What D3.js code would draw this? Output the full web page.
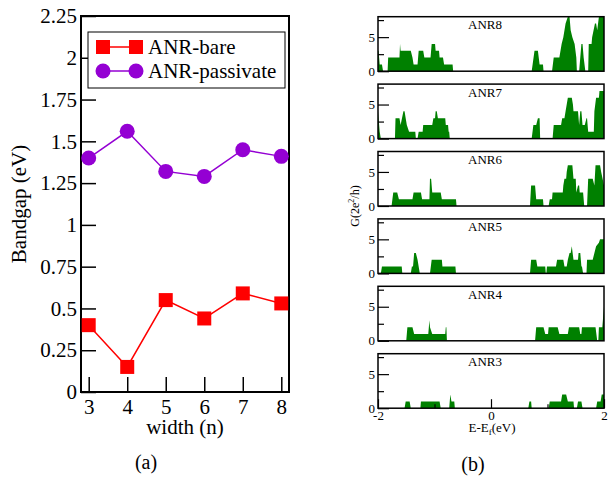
<!DOCTYPE html>
<html>
<head>
<meta charset="utf-8">
<script src="https://cdn.jsdelivr.net/npm/d3@7"></script>
<style>
    body { margin: 0; background: #fff; }
    svg { display: block; }
</style>
</head>
<body>
<svg id="chart" width="608" height="477"></svg>
<script>
// (a) band gap vs ribbon width
const widths = [3, 4, 5, 6, 7, 8];
const bareGap = [0.40, 0.15, 0.55, 0.44, 0.59, 0.53];
const passivateGap = [1.40, 1.56, 1.32, 1.29, 1.45, 1.41];
const gapTicks = [0, 0.25, 0.5, 0.75, 1, 1.25, 1.5, 1.75, 2, 2.25];
const seriesNames = ["ANR-bare", "ANR-passivate"];

// (b) conductance G(E) for each ribbon, [E - Ef, G] pairs
const ribbonNames = ["ANR8", "ANR7", "ANR6", "ANR5", "ANR4", "ANR3"];
const anr8 = [[-2.0,3],[-1.99,3],[-1.97,1],[-1.93,1],[-1.91,0],[-1.83,0],[-1.82,2],[-1.62,2],[-1.61,4],[-1.60,3],[-1.42,3],[-1.39,2],[-1.37,1],[-1.30,1],[-1.28,3],[-1.20,3],[-1.18,2],[-1.07,2],[-1.05,4],[-0.99,4],[-0.98,3],[-0.92,3],[-0.91,2],[-0.85,2],[-0.83,1],[-0.68,1],[-0.67,0],
    [0.72,0],[0.77,3],[0.83,3],[0.86,1],[0.92,1],[0.93,0],[1.08,0],[1.11,2],[1.21,2],[1.25,4],[1.28,5],[1.32,7],[1.36,8],[1.39,8],[1.41,6],[1.44,5],[1.48,4],[1.51,2],[1.52,0],[1.56,0],[1.60,4],[1.62,4],[1.64,2],[1.67,0],[1.72,0],[1.73,4],[1.78,4],[1.79,5],[1.84,7],[1.86,7],[1.88,6],[1.91,8],[2.0,8]];
const anr7 = [[-2.0,4],[-1.97,1],[-1.95,0],[-1.70,0],[-1.69,3],[-1.62,3],[-1.60,2],[-1.55,4],[-1.53,4],[-1.51,3],[-1.49,2],[-1.45,1],[-1.34,1],[-1.33,0],[-1.30,0],[-1.28,1],[-1.21,1],[-1.20,2],[-1.04,2],[-1.02,3],[-0.99,3],[-0.98,4],[-0.96,4],[-0.94,3],[-0.81,3],[-0.80,2],[-0.76,2],[-0.75,1],[-0.74,1],[-0.73,0],
    [0.72,0],[0.75,2],[0.80,2],[0.83,3],[0.86,3],[0.87,0],[1.09,0],[1.11,2],[1.24,2],[1.26,3],[1.30,3],[1.32,4],[1.34,5],[1.36,6],[1.43,6],[1.45,5],[1.46,4],[1.54,4],[1.56,2],[1.58,4],[1.60,4],[1.62,2],[1.66,2],[1.69,3],[1.70,3],[1.72,1],[1.82,1],[1.83,4],[1.86,6],[1.91,6],[1.92,7],[2.0,7]];
const anr6 = [[-2.0,0],[-1.76,0],[-1.73,2],[-1.66,2],[-1.63,1],[-1.39,1],[-1.37,2],[-1.24,2],[-1.22,1],[-1.09,1],[-1.08,4],[-1.06,4],[-1.04,2],[-0.89,2],[-0.87,1],[-0.62,1],[-0.61,0],
    [0.69,0],[0.71,3],[0.78,3],[0.80,1],[0.92,1],[0.93,0],[1.02,0],[1.04,1],[1.08,1],[1.09,2],[1.27,2],[1.28,3],[1.30,4],[1.33,4],[1.34,5],[1.36,6],[1.44,6],[1.46,4],[1.50,4],[1.51,2],[1.54,3],[1.56,3],[1.57,2],[1.63,2],[1.65,0],[1.70,0],[1.72,4],[1.80,4],[1.83,3],[1.85,6],[1.93,6],[1.95,5],[2.0,3]];
const anr5 = [[-2.0,0],[-1.95,0],[-1.93,1],[-1.58,1],[-1.57,0],[-1.42,0],[-1.40,1],[-1.38,1],[-1.36,3],[-1.33,3],[-1.30,2],[-1.26,0],[-1.08,0],[-1.05,2],[-0.87,2],[-0.86,1],[-0.63,1],[-0.62,0],
    [0.69,0],[0.71,2],[0.80,2],[0.82,1],[0.96,1],[0.97,0],[0.98,0],[0.99,1],[1.15,1],[1.17,2],[1.28,2],[1.30,1],[1.34,1],[1.36,2],[1.39,3],[1.41,3],[1.43,4],[1.46,2],[1.54,2],[1.55,3],[1.58,3],[1.60,1],[1.61,1],[1.63,0],[1.69,0],[1.70,2],[1.80,2],[1.83,3],[1.86,4],[1.91,4.5],[1.93,5],[2.0,5]];
const anr4 = [[-2.0,0],[-1.50,0],[-1.48,2],[-1.39,2],[-1.36,1],[-1.11,1],[-1.09,3],[-1.08,2],[-1.04,1],[-0.81,1],[-0.80,2],[-0.79,2],[-0.78,0],
    [0.78,0],[0.80,2],[0.93,2],[0.96,1],[1.01,1],[1.02,2],[1.18,2],[1.21,1],[1.36,1],[1.38,2],[1.56,2],[1.58,1],[1.60,1],[1.61,2],[1.85,2],[1.88,0],[1.90,0],[1.91,2],[1.97,2],[2.0,5]];
const anr3 = [[-2.0,0],[-1.53,0],[-1.51,1],[-1.44,1],[-1.42,0],[-1.25,0],[-1.24,1],[-0.91,1],[-0.89,0],[-0.74,0],[-0.72,2],[-0.70,1],[-0.65,1],[-0.64,0],
    [0.66,0],[0.68,1],[0.71,1],[0.72,0],[1.02,0],[1.04,1],[1.24,1],[1.26,2],[1.33,2],[1.36,1],[1.46,1],[1.47,0],[1.52,0],[1.54,1],[1.60,1],[1.62,0],[1.86,0],[1.88,1],[1.94,1],[1.96,2],[2.0,2]];
const ribbonData = [anr8, anr7, anr6, anr5, anr4, anr3];
const gTicks = [0, 5];
const gMinorTicks = [2.5, 7.5];
const eTicks = [-2, 0, 2];
const eMinorTicks = [-1, 1];

const serif = "'Liberation Serif', 'Times New Roman', serif";
const plain = d => String(d);
const svg = d3.select('#chart');

// ---------- left panel ----------
const lx = d3.scaleLinear().domain([2.8, 8.2]).range([81, 289]);
const ly = d3.scaleLinear().domain([0, 2.25]).range([392, 16]);

const leftY = svg.append("g")
    .attr("transform", `translate(${lx.range()[0]},0)`)
    .call(d3.axisLeft(ly).tickValues(gapTicks).tickSize(-15).tickSizeOuter(0).tickPadding(4).tickFormat(plain));
const leftX = svg.append("g")
    .attr("transform", `translate(0,${ly.range()[0]})`)
    .call(d3.axisBottom(lx).tickValues(widths).tickSize(-15).tickSizeOuter(0).tickPadding(7).tickFormat(plain));

for (const g of [leftY, leftX]) {
    g.select(".domain").remove();
    g.selectAll("line").attr("stroke", "#000").attr("stroke-width", 1.5);
    g.selectAll("text").attr("fill", "#000").attr("font-family", serif).attr("font-size", 21);
}

svg.append("rect")
    .attr("x", lx.range()[0]).attr("y", ly.range()[1])
    .attr("width", lx.range()[1] - lx.range()[0])
    .attr("height", ly.range()[0] - ly.range()[1])
    .attr("fill", "none").attr("stroke", "#000").attr("stroke-width", 2);

const gapLine = d3.line().x((d, i) => lx(widths[i])).y(d => ly(d));

svg.append("path").datum(passivateGap)
    .attr("d", gapLine).attr("fill", "none")
    .attr("stroke", "#9400d3").attr("stroke-width", 1.5);
svg.append("g").selectAll("circle").data(passivateGap).join("circle")
    .attr("cx", (d, i) => lx(widths[i])).attr("cy", d => ly(d))
    .attr("r", 7.5).attr("fill", "#9400d3");

svg.append("path").datum(bareGap)
    .attr("d", gapLine).attr("fill", "none")
    .attr("stroke", "#ff0000").attr("stroke-width", 1.5);
svg.append("g").selectAll("rect").data(bareGap).join("rect")
    .attr("x", (d, i) => lx(widths[i]) - 7).attr("y", d => ly(d) - 7)
    .attr("width", 14).attr("height", 14).attr("fill", "#ff0000");

// legend
const legend = svg.append("g");
legend.append("rect")
    .attr("x", 88).attr("y", 32).attr("width", 197).attr("height", 56)
    .attr("fill", "#fff").attr("stroke", "#000").attr("stroke-width", 1);
seriesNames.forEach((name, i) => {
    const yy = 47 + i * 24;
    const color = i === 0 ? "#ff0000" : "#9400d3";
    legend.append("line").attr("x1", 103).attr("x2", 136).attr("y1", yy).attr("y2", yy)
        .attr("stroke", color).attr("stroke-width", 1.5);
    for (const cx of [103, 136]) {
        if (i === 0) {
            legend.append("rect").attr("x", cx - 7).attr("y", yy - 7).attr("width", 14).attr("height", 14).attr("fill", color);
        } else {
            legend.append("circle").attr("cx", cx).attr("cy", yy).attr("r", 7.5).attr("fill", color);
        }
    }
    legend.append("text").attr("x", 148).attr("y", yy + 7)
        .attr("font-family", serif).attr("font-size", 21).text(name);
});

svg.append("text")
    .attr("transform", "translate(26,204) rotate(-90)")
    .attr("text-anchor", "middle")
    .attr("font-family", serif).attr("font-size", 21)
    .text("Bandgap (eV)");
svg.append("text")
    .attr("x", 185).attr("y", 434).attr("text-anchor", "middle")
    .attr("font-family", serif).attr("font-size", 21)
    .text("width (n)");
svg.append("text")
    .attr("x", 146).attr("y", 469).attr("text-anchor", "middle")
    .attr("font-family", serif).attr("font-size", 20)
    .text("(a)");

// ---------- right panels ----------
const rx = d3.scaleLinear().domain([-2, 2]).range([378, 604]);
const panelTop = 16.7, panelStep = 67.4, panelHeight = 54.5;

ribbonData.forEach((series, i) => {
    const top = panelTop + i * panelStep;
    const ry = d3.scaleLinear().domain([0, 8]).range([top + panelHeight, top]);
    const panel = svg.append("g").attr("class", "ribbon");

    panel.append("path").datum(series)
        .attr("d", d3.area().x(d => rx(d[0])).y0(ry(0)).y1(d => ry(d[1])))
        .attr("fill", "#008000");

    const yAxis = panel.append("g")
        .attr("transform", `translate(${rx.range()[0]},0)`)
        .call(d3.axisLeft(ry).tickValues(gTicks).tickSize(-11).tickSizeOuter(0).tickPadding(3).tickFormat(plain));
    const yMinor = panel.append("g")
        .attr("transform", `translate(${rx.range()[0]},0)`)
        .call(d3.axisLeft(ry).tickValues(gMinorTicks).tickSize(-6).tickSizeOuter(0).tickFormat(""));
    const axes = [yAxis, yMinor];

    if (i === ribbonData.length - 1) {
        const xAxis = panel.append("g")
            .attr("transform", `translate(0,${ry(0)})`)
            .call(d3.axisBottom(rx).tickValues(eTicks).tickSize(-9).tickSizeOuter(0).tickPadding(3).tickFormat(plain));
        const xMinor = panel.append("g")
            .attr("transform", `translate(0,${ry(0)})`)
            .call(d3.axisBottom(rx).tickValues(eMinorTicks).tickSize(-4).tickSizeOuter(0).tickFormat(""));
        axes.push(xAxis, xMinor);
    }

    for (const g of axes) {
        g.select(".domain").remove();
        g.selectAll("line").attr("stroke", "#000").attr("stroke-width", 1.2);
        g.selectAll("text").attr("fill", "#000").attr("font-family", serif).attr("font-size", 13);
    }

    panel.append("rect")
        .attr("x", rx.range()[0]).attr("y", top)
        .attr("width", rx.range()[1] - rx.range()[0]).attr("height", panelHeight)
        .attr("fill", "none").attr("stroke", "#000").attr("stroke-width", 1.5);

    panel.append("text")
        .attr("x", 485).attr("y", top + 12.5).attr("text-anchor", "middle")
        .attr("font-family", serif).attr("font-size", 13)
        .text(ribbonNames[i]);
});

const gLabel = svg.append("text")
    .attr("transform", "translate(359,206) rotate(-90)")
    .attr("text-anchor", "middle")
    .attr("font-family", serif).attr("font-size", 12);
gLabel.append("tspan").text("G(2e");
gLabel.append("tspan").attr("font-size", 8).attr("dy", -5).text("2");
gLabel.append("tspan").attr("dy", 5).text("/h)");

const eLabel = svg.append("text")
    .attr("x", 492).attr("y", 432).attr("text-anchor", "middle")
    .attr("font-family", serif).attr("font-size", 13);
eLabel.append("tspan").text("E-E");
eLabel.append("tspan").attr("font-size", 9).attr("dy", 3).text("f");
eLabel.append("tspan").attr("dy", -3).text("(eV)");

svg.append("text")
    .attr("x", 473).attr("y", 471).attr("text-anchor", "middle")
    .attr("font-family", serif).attr("font-size", 20)
    .text("(b)");
</script>
</body>
</html>
